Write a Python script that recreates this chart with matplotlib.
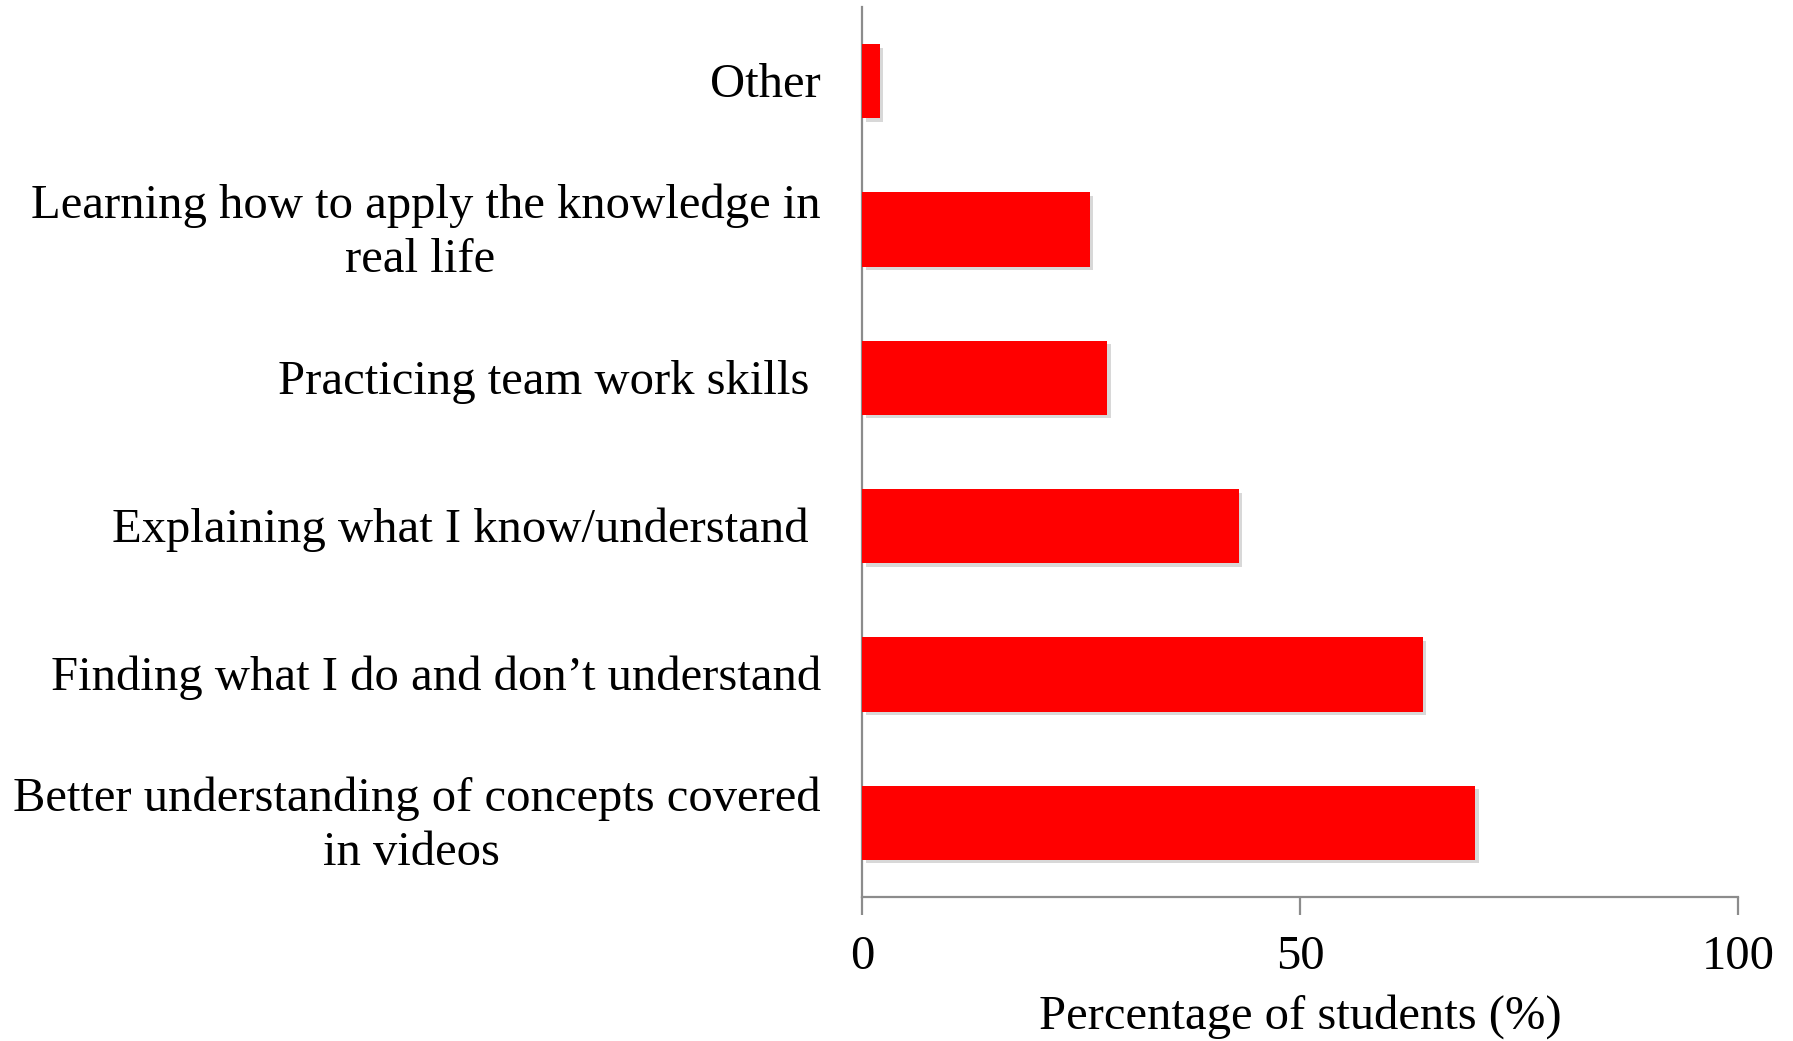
import matplotlib.pyplot as plt
import matplotlib.patheffects as pe
import matplotlib.transforms as mtransforms

# categories bottom -> top
categories = [
    "Better understanding of concepts covered\nin videos ",
    "Finding what I do and don\u2019t understand",
    "Explaining what I know/understand ",
    "Practicing team work skills ",
    "Learning how to apply the knowledge in\nreal life ",
    "Other",
]
values = [70.0, 64.0, 43.0, 28.0, 26.0, 2.0]
x_ticks = [0, 50, 100]

plt.rcParams["font.family"] = ["Liberation Serif", "DejaVu Serif"]

fig = plt.figure(figsize=(17.93, 10.41), dpi=100)
ax = fig.add_axes([0.4808, 0.1383, 0.9693 - 0.4808, 0.9933 - 0.1383])

pos = list(range(len(categories)))
bars = ax.barh(pos, values, height=0.5, color="#ff0000", zorder=3)
for b in bars:
    b.set_path_effects([
        pe.SimplePatchShadow(offset=(2.5, -2.5), shadow_rgbFace="#909090", alpha=0.35),
        pe.Normal(),
    ])

ax.set_xlim(0, 100)
ax.set_ylim(-0.5, len(categories) - 0.5)
ax.set_xticks(x_ticks)
ax.set_yticks(pos)
ax.set_yticklabels([])

# category labels drawn by hand, right-aligned left of the axis
for i, lab in zip(pos, categories):
    dy = -0.03 if "\n" in lab else -0.037
    tr = ax.get_yaxis_transform() + mtransforms.ScaledTranslation(-0.41, dy, fig.dpi_scale_trans)
    ax.text(0, i, lab, transform=tr, ha="right", va="center",
            multialignment="center", linespacing=1.3, fontsize=35)

for side in ["top", "right"]:
    ax.spines[side].set_visible(False)
for side in ["left", "bottom"]:
    ax.spines[side].set_color("#8c8c8c")
    ax.spines[side].set_linewidth(1.6)

ax.tick_params(axis="y", length=0)
ax.tick_params(axis="x", direction="out", length=13, width=1.6, color="#8c8c8c",
               pad=14, labelsize=35)

ax.set_xlabel("Percentage of students (%)", fontsize=35, labelpad=11)

fig.savefig("out.png", dpi=100)
